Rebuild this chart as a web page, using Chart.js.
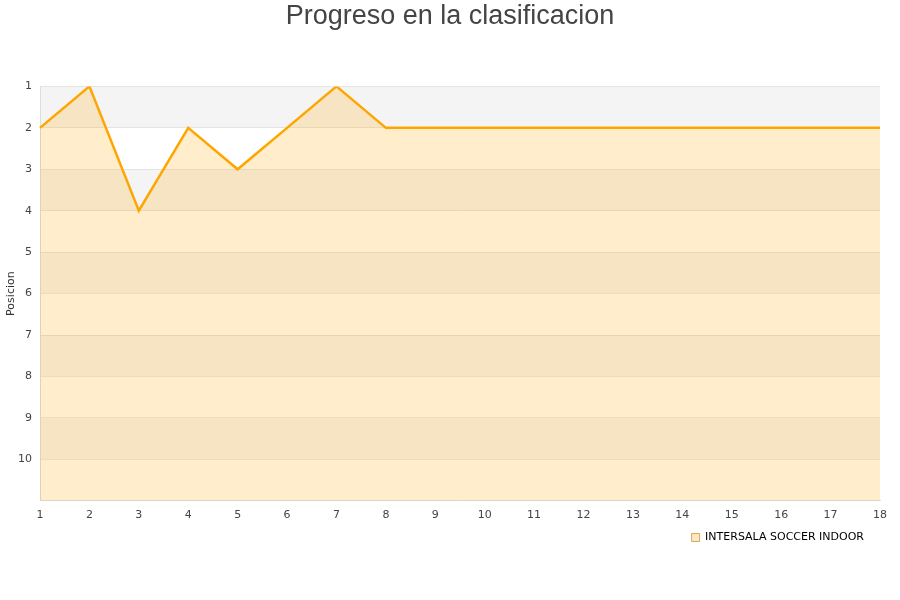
<!DOCTYPE html>
<html>
<head>
<meta charset="utf-8">
<script src="https://cdn.jsdelivr.net/npm/chart.js@4"></script>
<style>
  html, body { margin: 0; padding: 0; background: #fff; }
  #wrap { width: 900px; height: 600px; }
</style>
</head>
<body>
<div id="wrap"><canvas id="chart" width="900" height="600"></canvas></div>
<script>
const jornadas = ['1','2','3','4','5','6','7','8','9','10','11','12','13','14','15','16','17','18'];
const posiciones = [2, 1, 4, 2, 3, 2, 1, 2, 2, 2, 2, 2, 2, 2, 2, 2, 2, 2];
const equipo = 'INTERSALA SOCCER INDOOR';
const posMin = 1;
const posMax = 11;

// alternating grey / white rows behind the plot
const bandsPlugin = {
  id: 'bands',
  beforeDraw(chart) {
    const { ctx, chartArea, scales } = chart;
    const y = scales.y;
    ctx.save();
    for (let v = posMin; v < posMax; v++) {
      const top = y.getPixelForValue(v);
      const bottom = y.getPixelForValue(v + 1);
      ctx.fillStyle = (v % 2 === 1) ? '#f4f4f4' : '#ffffff';
      ctx.fillRect(chartArea.left, top, chartArea.right - chartArea.left, bottom - top);
    }
    ctx.restore();
  }
};

// nudge the legend a bit left/up, like the original
const legendNudge = {
  id: 'legendNudge',
  afterLayout(chart) {
    const lg = chart.legend;
    if (!lg) return;
    lg.right = 870;
    lg.width = lg.right - lg.left;
    lg.top -= 4;
    lg.bottom -= 4;
  }
};

const ctx = document.getElementById('chart').getContext('2d');
new Chart(ctx, {
  type: 'line',
  data: {
    labels: jornadas,
    datasets: [{
      label: equipo,
      data: posiciones,
      borderColor: '#ffa500',
      backgroundColor: 'rgba(255, 165, 0, 0.2)',
      borderWidth: 2.5,
      pointRadius: 0,
      fill: { value: posMax },
      tension: 0
    }]
  },
  options: {
    responsive: false,
    animation: false,
    layout: { padding: { left: 0, right: 0, top: 0, bottom: 43 } },
    plugins: {
      title: {
        display: true,
        text: 'Progreso en la clasificacion',
        color: '#444',
        font: { family: '"Liberation Sans", Arial, sans-serif', size: 27, weight: 'normal' },
        padding: { top: 0, bottom: 54 }
      },
      legend: {
        position: 'bottom',
        align: 'end',
        labels: {
          color: '#000',
          boxWidth: 8,
          boxHeight: 8,
          padding: 6,
          font: { family: '"DejaVu Sans", sans-serif', size: 11 },
          generateLabels(chart) {
            return [{
              text: equipo,
              fillStyle: '#fde7c4',
              strokeStyle: '#d9a955',
              lineWidth: 1,
              datasetIndex: 0
            }];
          }
        }
      },
      tooltip: { enabled: false }
    },
    scales: {
      x: {
        offset: false,
        afterFit(scale) { scale.paddingRight = 20; },
        grid: { display: false, drawTicks: false },
        border: { display: true, color: '#dddddd' },
        ticks: {
          color: '#444',
          padding: 8,
          maxRotation: 0,
          autoSkip: false,
          font: { family: '"DejaVu Sans", sans-serif', size: 11 }
        }
      },
      y: {
        reverse: true,
        min: posMin,
        max: posMax,
        afterFit(scale) { scale.width = 40; },
        title: {
          display: true,
          text: 'Posicion',
          color: '#333',
          padding: { top: 5, bottom: 0 },
          font: { family: '"DejaVu Sans", sans-serif', size: 11 }
        },
        grid: { color: 'rgba(0,0,0,0.08)', drawTicks: false },
        border: { display: true, color: '#dddddd' },
        ticks: {
          stepSize: 1,
          color: '#444',
          padding: 8,
          font: { family: '"DejaVu Sans", sans-serif', size: 11 },
          callback: (value) => (value === posMax ? '' : value)
        }
      }
    }
  },
  plugins: [bandsPlugin, legendNudge]
});
</script>
</body>
</html>
